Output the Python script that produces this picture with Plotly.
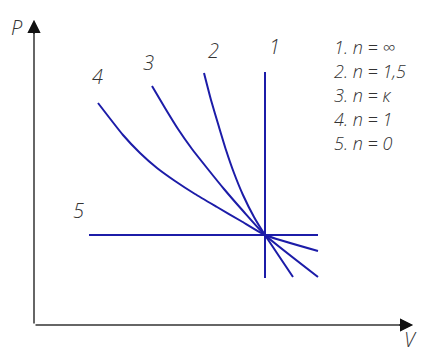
import plotly.graph_objects as go

# polytropic processes on a P-V diagram (V right, P up)
v_iso_v = [231, 231]                      # 1. n = inf
p_iso_v = [253, 47]
v_n15 = [170, 177, 185, 192, 200, 209, 220, 231, 259]   # 2. n = 1,5
p_n15 = [252, 225, 198, 175, 152, 130, 108, 90, 48]
v_adiab = [118, 131, 144, 158, 173, 190, 210, 231, 284]  # 3. n = k
p_adiab = [239, 217, 196, 176, 157, 136, 113, 90, 48]
v_isot = [64, 89, 106, 123, 141, 161, 183, 207, 231, 284]  # 4. n = 1
p_isot = [222, 190, 172, 157, 144, 131, 118, 104, 90, 74]
v_isob = [55, 284]                        # 5. n = 0
p_isob = [90, 90]

curve_labels = ["1", "2", "3", "4", "5"]
label_v = [240, 179, 114, 63, 44]
label_p = [279, 275, 263, 249, 115]

legend_lines = ["1. n = ∞", "2. n = 1,5", "3. n = к", "4. n = 1", "5. n = 0"]

blue = "#1c1ca8"
txt_font = dict(family="Open Sans", size=20, color="#333333", style="italic", weight=300)
leg_font = dict(family="Open Sans", size=18, color="#333333", style="italic", weight=300)

fig = go.Figure()
fig.add_trace(go.Scatter(x=v_iso_v, y=p_iso_v, mode="lines", line=dict(color=blue, width=2)))
for vv, pp in [(v_n15, p_n15), (v_adiab, p_adiab), (v_isot, p_isot)]:
    fig.add_trace(go.Scatter(x=vv, y=pp, mode="lines",
                             line=dict(color=blue, width=2, shape="spline", smoothing=0.5)))
fig.add_trace(go.Scatter(x=v_isob, y=p_isob, mode="lines", line=dict(color=blue, width=2)))

# axes drawn as arrows from the origin, gray shaft with a dark head
def axis_arrow(x_tip, y_tip, x_from, y_from, col):
    fig.add_annotation(x=x_tip, y=y_tip, ax=x_from, ay=y_from, xref="x", yref="y",
                       axref="x", ayref="y", showarrow=True, arrowhead=2, arrowsize=1.3,
                       arrowwidth=2, arrowcolor=col, text="")

axis_arrow(0, 305, 0, 0, "#666666")
axis_arrow(379, 0, 0, 0, "#666666")
axis_arrow(0, 305, 0, 290, "#111111")
axis_arrow(379, 0, 364, 0, "#111111")
fig.add_annotation(x=-17, y=298, text="P", showarrow=False, font=txt_font)
fig.add_annotation(x=376, y=-14, text="V", showarrow=False, font=txt_font)

for t, vx, py in zip(curve_labels, label_v, label_p):
    fig.add_annotation(x=vx, y=py, text=t, showarrow=False, font=txt_font)

for i, t in enumerate(legend_lines):
    fig.add_annotation(x=298, y=278 - 24 * i, text=t, showarrow=False, xanchor="left", font=leg_font)

# the page body keeps its 8px margin, so the figure is 8px smaller each way
fig.update_layout(
    width=436, height=350,
    margin=dict(l=0, r=0, t=0, b=0),
    paper_bgcolor="white", plot_bgcolor="white",
    showlegend=False,
    xaxis=dict(range=[-26, 410], visible=False),
    yaxis=dict(range=[-33, 317], visible=False),
)

fig.write_html("out.html")
